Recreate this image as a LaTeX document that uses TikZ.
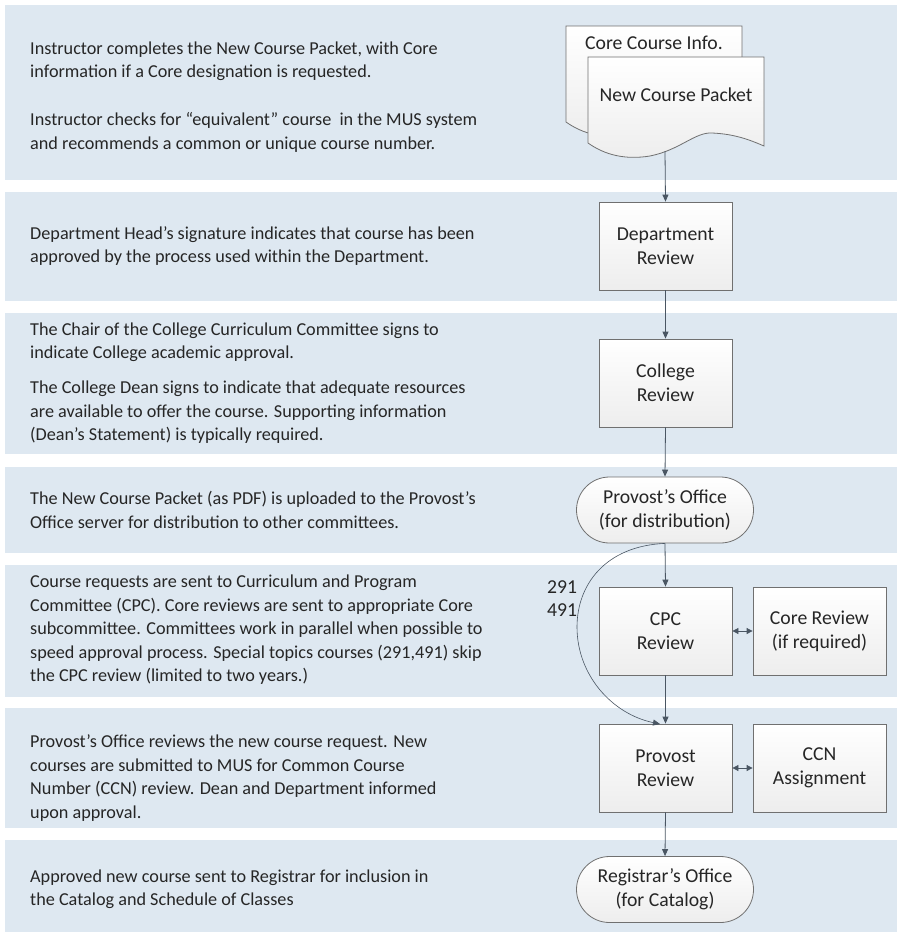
\documentclass[tikz,border=0pt]{standalone}
\usepackage{fontspec}
\setmainfont{Carlito}
\usetikzlibrary{arrows.meta}
\definecolor{bandc}{HTML}{DEE8F1}
\definecolor{boxc}{HTML}{707070}
\definecolor{arrc}{HTML}{4A5663}
\definecolor{txtc}{HTML}{262626}
\tikzset{
  band/.style={fill=bandc, draw=none},
  txt/.style={anchor=west, align=left, inner sep=0pt, text=txtc, font=\fontsize{18.2}{23.5}\selectfont},
  proc/.style={draw=boxc, line width=0.8pt, top color=white, bottom color=black!7, minimum width=133pt, minimum height=88pt, align=center, inner sep=0pt, text=txtc, font=\fontsize{19.7}{24}\selectfont},
  term/.style={draw=boxc, line width=0.8pt, top color=white, bottom color=black!7, rounded corners=33pt, minimum width=177pt, minimum height=66pt, align=center, inner sep=0pt, text=txtc, font=\fontsize{19.7}{24}\selectfont},
  docshape/.style={draw=boxc, line width=0.8pt, top color=white, bottom color=black!7},
  lbl/.style={inner sep=0pt, text=txtc, font=\fontsize{19.7}{24}\selectfont},
  flow/.style={draw=arrc, line width=0.8pt, -{Triangle[length=7pt,width=6pt]}},
  flowtwo/.style={draw=arrc, line width=0.8pt, {Triangle[length=6pt,width=6pt]}-{Triangle[length=6pt,width=6pt]}},
}
\begin{document}
\begin{tikzpicture}[x=1pt,y=-1pt]
\useasboundingbox (0,0) rectangle (897,932);
% bands
\fill[band] (5,5) rectangle (897,180);
\fill[band] (5,192) rectangle (897,301);
\fill[band] (5,313) rectangle (897,454);
\fill[band] (5,467) rectangle (897,553);
\fill[band] (5,565) rectangle (897,697);
\fill[band] (5,708) rectangle (897,828);
\fill[band] (5,840) rectangle (897,932);

% left texts
\node[txt] (t1) at (30,97) {Instructor completes the New Course Packet, with Core\\information if a Core designation is requested.\\[24.5pt]Instructor checks for “equivalent” course\ \ in the MUS system\\and recommends a common or unique course number.};
\node[txt] (t2) at (30,246) {Department Head’s signature indicates that course has been\\approved by the process used within the Department.};
\node[txt] (t3) at (30,383) {The Chair of the College Curriculum Committee signs to\\indicate College academic approval.\\[11.5pt]The College Dean signs to indicate that adequate resources\\are available to offer the course. Supporting information\\(Dean’s Statement) is typically required.};
\node[txt] (t4) at (30,510) {The New Course Packet (as PDF) is uploaded to the Provost’s\\Office server for distribution to other committees.};
\node[txt] (t5) at (30,630) {Course requests are sent to Curriculum and Program\\Committee (CPC). Core reviews are sent to appropriate Core\\subcommittee. Committees work in parallel when possible to\\speed approval process. Special topics courses (291,491) skip\\the CPC review (limited to two years.)};
\node[txt] (t6) at (30,778) {Provost’s Office reviews the new course request. New\\courses are submitted to MUS for Common Course\\Number (CCN) review. Dean and Department informed\\upon approval.};
\node[txt] (t7) at (30,889) {Approved new course sent to Registrar for inclusion in\\the Catalog and Schedule of Classes};

% documents
\path[docshape] (566,26) -- (566,122) .. controls (583,134) and (603,139) .. (628,135) .. controls (658,129) and (673,111) .. (690,112) .. controls (713,113) and (728,119) .. (742,125) -- (742,26) -- cycle;
\node[lbl] (coreinfo) at (654,43) {Core Course Info.};
\path[docshape] (588,57) -- (588,143) .. controls (605,155) and (625,160) .. (650,156) .. controls (680,150) and (695,132) .. (712,133) .. controls (735,134) and (750,140) .. (764,146) -- (764,57) -- cycle;
\node[lbl] (packet) at (676,95) {New Course Packet};
\coordinate (packetbot) at (665,151);

% process nodes
\node[proc] (dept) at (665.5,246) {Department\\Review};
\node[proc] (college) at (665.5,383) {College\\Review};
\node[term] (provoff) at (665,510) {Provost’s Office\\(for distribution)};
\node[proc] (cpc) at (665.5,631) {CPC\\Review};
\node[proc] (core) at (819.5,631) {Core Review\\(if required)};
\node[proc] (prov) at (665.5,768) {Provost\\Review};
\node[proc] (ccn) at (819.5,768) {CCN\\Assignment};
\node[term] (reg) at (665,889.5) {Registrar’s Office\\(for Catalog)};

\node[lbl, anchor=west] (n291) at (547,587) {291};
\node[lbl, anchor=west] (n491) at (547,610) {491};

% connectors
\draw[flow] (packetbot) -- (dept.north);
\draw[flow] (dept.south) -- (college.north);
\draw[flow] (college.south) -- (provoff.north);
\draw[flow] (provoff.south) -- (cpc.north);
\draw[flow] (cpc.south) -- (prov.north);
\draw[flow] (prov.south) -- (reg.north);
\draw[flowtwo] (cpc.east) -- (core.west);
\draw[flowtwo] (prov.east) -- (ccn.west);
\coordinate (skipend) at (660,724);
\draw[flow, line width=0.6pt] (provoff.south) .. controls (605,546) and (577,585) .. (577,627) .. controls (577,675) and (612,714) .. (skipend);
\end{tikzpicture}
\end{document}
